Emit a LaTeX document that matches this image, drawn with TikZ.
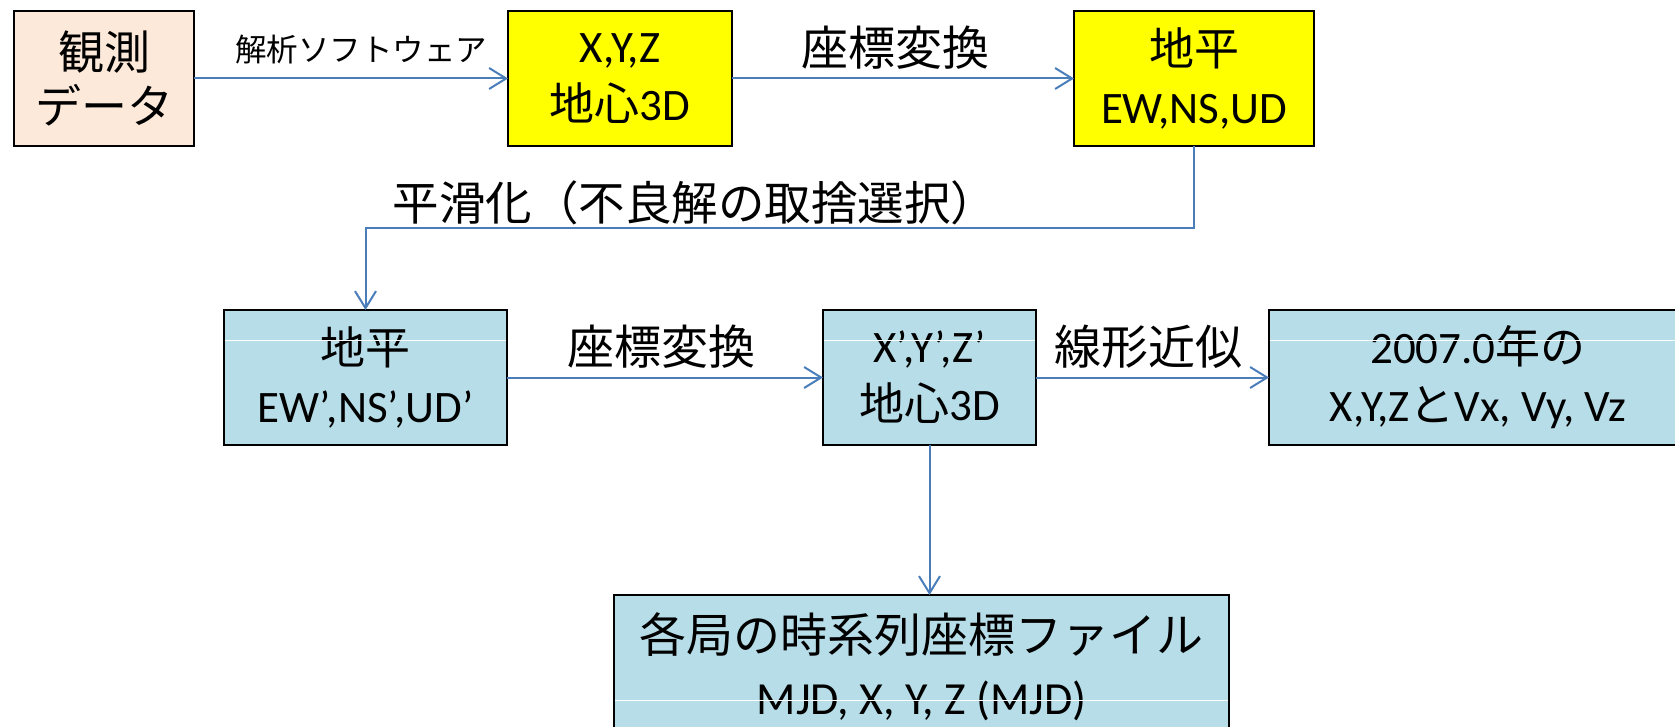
\documentclass[tikz,border=0pt]{standalone}
\usepackage{fontspec}
\setmainfont{Carlito}
\newfontfamily\jp{Noto Sans CJK JP}
\usetikzlibrary{arrows.meta,calc}
\definecolor{peach}{HTML}{FDE9D9}
\definecolor{ylw}{HTML}{FFFF00}
\definecolor{aqua}{HTML}{B7DEE8}
\definecolor{arrowblue}{HTML}{4A7EBB}
\tikzset{
  box/.style={draw=black, line width=2pt, inner sep=0pt, outer sep=0pt, align=center,
    font=\fontsize{45}{58}\selectfont},
  conn/.style={draw=arrowblue, line width=2pt, -{Straight Barb[length=17pt,width=21pt]}},
  lbl/.style={inner sep=0pt, font=\jp\fontsize{47}{56}\selectfont},
  sheen/.style={draw=white, line width=1pt}
}
\begin{document}
\begin{tikzpicture}[x=1pt,y=-1pt]
\path[use as bounding box, fill=white] (0,0) rectangle (1675,727);

% top row
\node[box, fill=peach, minimum width=180pt, minimum height=135pt,
  font=\fontsize{46}{54}\selectfont] (obs) at (104,78.5) {\jp 観測\\\jp データ};
\node[box, fill=ylw, minimum width=224pt, minimum height=135pt] (y1) at (620,78.5)
  {X,Y,Z\\{\jp 地心}3D};
\node[box, fill=ylw, minimum width=240pt, minimum height=135pt] (y2) at (1194,78.5)
  {{\jp 地平}\\EW,NS,UD};

% second row
\node[box, fill=aqua, minimum width=283pt, minimum height=135pt] (b4) at (365.5,377.5)
  {{\jp 地平}\\EW’,NS’,UD’};
\node[box, fill=aqua, minimum width=213pt, minimum height=135pt] (b5) at (929.5,377.5)
  {X’,Y’,Z’\\{\jp 地心}3D};
\node[box, fill=aqua, minimum width=418pt, minimum height=135pt] (b6) at (1478,377.5)
  {2007.0{\jp 年の}\\X,Y,Z{\jp と}Vx, Vy, Vz};

% bottom box
\node[box, fill=aqua, minimum width=615pt, minimum height=143pt,
  font=\fontsize{46}{62}\selectfont] (b7) at (921.5,666.5)
  {{\jp\fontsize{47}{62}\selectfont 各局の時系列座標ファイル}\\MJD, X, Y, Z (MJD)};

% sheen lines
\draw[sheen] ([xshift=1.2pt,yshift=37.5pt]b4.west) -- ([xshift=-1.2pt,yshift=37.5pt]b4.east);
\draw[sheen] ([xshift=1.2pt,yshift=37.5pt]b5.west) -- ([xshift=-1.2pt,yshift=37.5pt]b5.east);
\draw[sheen] ([xshift=1.2pt,yshift=37.5pt]b6.west) -- ([xshift=-1.2pt,yshift=37.5pt]b6.east);
\draw[sheen] ([xshift=1.2pt,yshift=-33.5pt]b7.west) -- ([xshift=-1.2pt,yshift=-33.5pt]b7.east);

% connectors
\draw[conn] (obs.east) -- (y1.west);
\draw[conn] (y1.east) -- (y2.west);
\coordinate (turn) at (1194,228);
\draw[conn] (y2.south) -- (turn) -| (b4.north);
\draw[conn] (b4.east) -- (b5.west);
\draw[conn] (b5.east) -- (b6.west);
\draw[conn] (b5.south) -- (b5.south |- b7.north);

% labels
\node[lbl, font=\jp\fontsize{31.5}{36}\selectfont] (l1) at (361,50) {解析ソフトウェア};
\node[lbl] (l2) at (895,48) {座標変換};
\node[lbl, font=\jp\fontsize{46.5}{56}\selectfont] (l3) at (695,203) {平滑化（不良解の取捨選択）};
\node[lbl] (l4) at (661,347) {座標変換};
\node[lbl] (l5) at (1148,347) {線形近似};
\end{tikzpicture}
\end{document}
